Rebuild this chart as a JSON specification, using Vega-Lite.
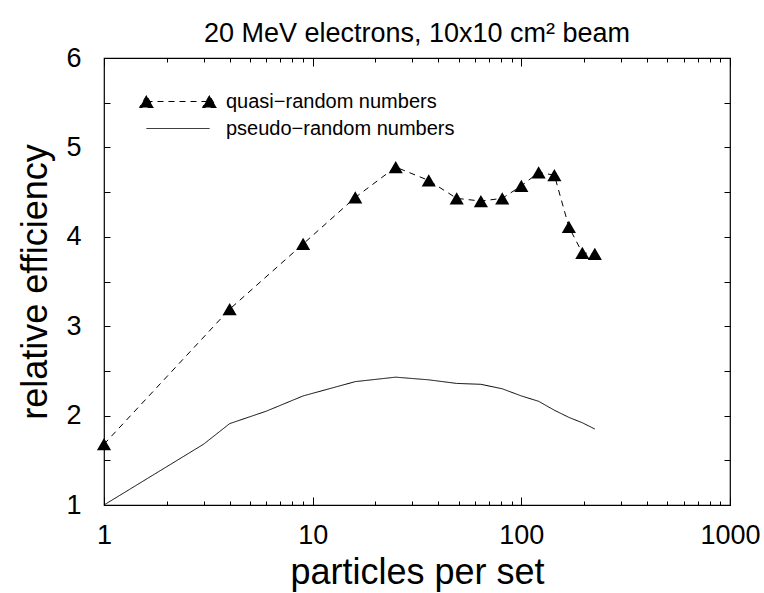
{
  "$schema": "https://vega.github.io/schema/vega-lite/v6.json",
  "width": 626,
  "height": 447,
  "autosize": {"type": "none"},
  "padding": {"left": 104, "top": 58, "right": 34, "bottom": 88},
  "background": "white",
  "config": {
    "font": "Liberation Sans",
    "view": {"stroke": "black", "strokeWidth": 1.2},
    "axis": {"domain": false, "grid": false, "tickColor": "black", "tickWidth": 1, "labelColor": "black", "titleColor": "black", "labelFont": "Liberation Sans", "titleFont": "Liberation Sans", "labelFontWeight": "normal", "titleFontWeight": "normal"}
  },
  "title": {"text": "20 MeV electrons, 10x10 cm² beam", "fontSize": 27, "fontWeight": "normal", "font": "Liberation Sans", "color": "black", "anchor": "middle", "frame": "group", "offset": -4},
  "data": {
    "values": [
      {"n": 1, "eff": 1.68, "series": "quasi−random numbers"},
      {"n": 4, "eff": 3.19, "series": "quasi−random numbers"},
      {"n": 9, "eff": 3.92, "series": "quasi−random numbers"},
      {"n": 16, "eff": 4.44, "series": "quasi−random numbers"},
      {"n": 25, "eff": 4.78, "series": "quasi−random numbers"},
      {"n": 36, "eff": 4.63, "series": "quasi−random numbers"},
      {"n": 49, "eff": 4.43, "series": "quasi−random numbers"},
      {"n": 64, "eff": 4.40, "series": "quasi−random numbers"},
      {"n": 81, "eff": 4.43, "series": "quasi−random numbers"},
      {"n": 100, "eff": 4.57, "series": "quasi−random numbers"},
      {"n": 121, "eff": 4.72, "series": "quasi−random numbers"},
      {"n": 144, "eff": 4.69, "series": "quasi−random numbers"},
      {"n": 169, "eff": 4.11, "series": "quasi−random numbers"},
      {"n": 196, "eff": 3.82, "series": "quasi−random numbers"},
      {"n": 225, "eff": 3.81, "series": "quasi−random numbers"},
      {"n": 1, "eff": 1.0, "series": "pseudo−random numbers"},
      {"n": 3, "eff": 1.68, "series": "pseudo−random numbers"},
      {"n": 4, "eff": 1.91, "series": "pseudo−random numbers"},
      {"n": 6, "eff": 2.05, "series": "pseudo−random numbers"},
      {"n": 9, "eff": 2.22, "series": "pseudo−random numbers"},
      {"n": 16, "eff": 2.38, "series": "pseudo−random numbers"},
      {"n": 25, "eff": 2.43, "series": "pseudo−random numbers"},
      {"n": 36, "eff": 2.40, "series": "pseudo−random numbers"},
      {"n": 49, "eff": 2.36, "series": "pseudo−random numbers"},
      {"n": 64, "eff": 2.35, "series": "pseudo−random numbers"},
      {"n": 81, "eff": 2.30, "series": "pseudo−random numbers"},
      {"n": 100, "eff": 2.22, "series": "pseudo−random numbers"},
      {"n": 121, "eff": 2.16, "series": "pseudo−random numbers"},
      {"n": 144, "eff": 2.06, "series": "pseudo−random numbers"},
      {"n": 169, "eff": 1.98, "series": "pseudo−random numbers"},
      {"n": 196, "eff": 1.92, "series": "pseudo−random numbers"},
      {"n": 225, "eff": 1.85, "series": "pseudo−random numbers"}
    ]
  },
  "layer": [
    {
      "mark": {"type": "line", "color": "black", "strokeWidth": 1},
      "encoding": {
        "x": {
          "field": "n", "type": "quantitative",
          "scale": {"type": "log", "domain": [1, 1000]},
          "axis": {
            "orient": "bottom",
            "values": [1,2,3,4,5,6,7,8,9,10,20,30,40,50,60,70,80,90,100,200,300,400,500,600,700,800,900,1000],
            "format": "d",
            "labelExpr": "(datum.value == 1 || datum.value == 10 || datum.value == 100 || datum.value == 1000) ? datum.label : ''",
            "tickSize": {"condition": {"test": "datum.value == 1 || datum.value == 10 || datum.value == 100 || datum.value == 1000", "value": -8}, "value": -4},
            "labelFontSize": 27,
            "labelPadding": 25,
            "labelFlush": false,
            "labelOverlap": false,
            "title": "particles per set",
            "titleFontSize": 36,
            "titlePadding": 3
          }
        },
        "y": {
          "field": "eff", "type": "quantitative",
          "scale": {"domain": [1, 6], "nice": false, "zero": false},
          "axis": {
            "orient": "left",
            "values": [1,1.5,2,2.5,3,3.5,4,4.5,5,5.5,6],
            "format": "~g",
            "labelExpr": "datum.value % 1 === 0 ? datum.label : ''",
            "tickSize": -6,
            "labelFontSize": 27,
            "labelPadding": 29,
            "labelOverlap": false,
            "labelFlush": false,
            "title": "relative efficiency",
            "titleFontSize": 36,
            "titlePadding": 11
          }
        },
        "strokeDash": {
          "field": "series", "type": "nominal",
          "scale": {"domain": ["quasi−random numbers", "pseudo−random numbers"], "range": [[6, 5], [1, 0]]},
          "legend": {
            "title": null,
            "orient": "none",
            "legendX": 63.5,
            "legendY": 33,
            "padding": 0,
            "symbolSize": 400,
            "symbolStrokeWidth": 1,
            "symbolStrokeColor": "black",
            "labelFontSize": 20,
            "labelFont": "Liberation Sans",
            "labelColor": "black",
            "labelLimit": 400,
            "labelOffset": 37.5,
            "rowPadding": 6,
            "encode": {
              "symbols": {
                "update": {
                  "shape": {"signal": "indexof(datum.value, 'quasi') === 0 ? 'M-3.15,0L3.15,0M-3.15,-0.6L-3.85,0.6L-2.45,0.6ZM3.15,-0.6L2.45,0.6L3.85,0.6Z' : 'M-3.15,0L3.15,0'"},
                  "fill": {"signal": "indexof(datum.value, 'quasi') === 0 ? 'black' : 'transparent'"},
                  "stroke": {"value": "black"},
                  "opacity": {"value": 1}
                }
              }
            }
          }
        }
      }
    },
    {
      "transform": [{"filter": "indexof(datum.series, 'quasi') === 0"}],
      "mark": {"type": "point", "shape": "triangle-up", "filled": true, "color": "black", "size": 200, "opacity": 1},
      "encoding": {
        "x": {
          "field": "n", "type": "quantitative",
          "axis": {
            "orient": "top",
            "values": [1,2,3,4,5,6,7,8,9,10,20,30,40,50,60,70,80,90,100,200,300,400,500,600,700,800,900,1000],
            "labels": false,
            "title": null,
            "tickSize": {"condition": {"test": "datum.value == 1 || datum.value == 10 || datum.value == 100 || datum.value == 1000", "value": -8}, "value": -4}
          }
        },
        "y": {
          "field": "eff", "type": "quantitative",
          "axis": {
            "orient": "right",
            "values": [1,1.5,2,2.5,3,3.5,4,4.5,5,5.5,6],
            "labels": false,
            "title": null,
            "tickSize": -6
          }
        }
      }
    }
  ],
  "resolve": {"axis": {"x": "independent", "y": "independent"}}
}
